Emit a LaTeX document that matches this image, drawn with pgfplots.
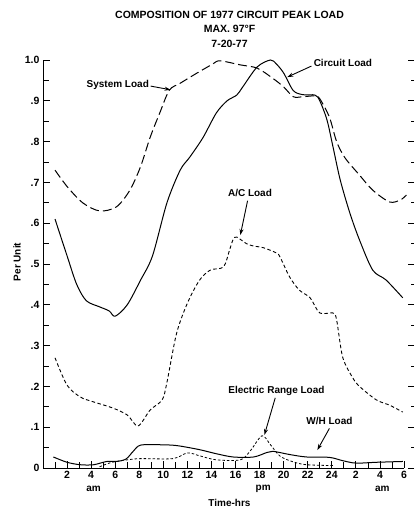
\documentclass[border=0pt]{standalone}
\usepackage{fontspec}
\setmainfont{Liberation Sans}
\usepackage{pgfplots}
\pgfplotsset{compat=1.18}
\usetikzlibrary{arrows.meta}
\begin{document}
\begin{tikzpicture}
\path[use as bounding box] (-43pt,-42pt) rectangle (371pt,468pt);
\begin{axis}[
  at={(0,0)}, anchor=south west, scale only axis,
  width=361pt, height=408pt,
  xmin=0, xmax=30, ymin=0, ymax=1,
  axis x line=bottom, axis y line=left,
  axis line style={-, line width=0.9pt},
  xtick={2,4,...,30},
  xticklabels={2,4,6,8,10,12,14,16,18,20,22,24,2,4,6},
  minor xtick={1,3,...,29},
  ytick={0,0.1,0.2,0.3,0.4,0.5,0.6,0.7,0.8,0.9,1.0},
  yticklabels={0,.1,.2,.3,.4,.5,.6,.7,.8,.9,1.0},
  minor ytick={0.05,0.15,0.25,0.35,0.45,0.55,0.65,0.75,0.85,0.95},
  tick align=inside,
  major tick length=7pt, minor tick length=6pt,
  tick style={black, line width=0.8pt},
  ticklabel style={font=\bfseries\fontsize{10.5}{12}\selectfont},
  /pgf/number format/assume math mode=true,
  clip=false,
]
% Circuit Load
\addplot[black, line width=1pt, smooth, tension=0.5] coordinates {
(1,0.61) (2,0.52) (2.8,0.45) (3.6,0.41) (4.7,0.395) (5.5,0.385) (6,0.372)
(7,0.40) (8.1,0.46) (9.1,0.52) (10.3,0.65) (11.4,0.73) (12.2,0.762) (13.3,0.81)
(14.4,0.87) (15.3,0.90) (16.1,0.914) (16.6,0.934) (17.8,0.983) (18.9,1.0)
(19.4,0.99) (20,0.968) (20.8,0.925) (21.6,0.915) (22.6,0.914) (23,0.90)
(23.6,0.853) (24.1,0.787) (24.7,0.706) (25.5,0.625) (26.3,0.559) (27.4,0.485)
(28.5,0.461) (29.9,0.417)
};
% System Load
\addplot[black, line width=1pt, smooth, tension=0.5, dash pattern=on 9pt off 4pt] coordinates {
(1,0.73) (2,0.69) (3.3,0.65) (4.7,0.63) (6.1,0.64) (7.2,0.68) (8.1,0.738)
(8.9,0.81) (9.7,0.87) (10.5,0.926) (11.4,0.943) (12.8,0.968) (14.1,0.99)
(14.7,0.998) (16.4,0.988) (17.8,0.98) (19.1,0.955) (20,0.934) (20.8,0.91)
(21.6,0.91) (22.6,0.912) (23,0.905) (23.8,0.86) (24.4,0.80) (25.1,0.76)
(26.3,0.718) (27.4,0.681) (28.8,0.652) (29.7,0.657) (30.2,0.669)
};
% A/C Load
\addplot[black, line width=0.9pt, smooth, tension=0.5, dash pattern=on 3.5pt off 2.5pt] coordinates {
(1,0.27) (2,0.203) (3.1,0.174) (4.2,0.162) (5.8,0.147) (7,0.13) (7.9,0.103)
(8.9,0.142) (9.9,0.167) (10.3,0.21) (11.1,0.33) (12,0.404) (13,0.46)
(13.9,0.485) (15,0.493) (15.5,0.534) (15.8,0.56) (16.1,0.566) (16.9,0.55)
(17.5,0.544) (18.3,0.54) (19.4,0.527) (19.7,0.517) (20.5,0.468) (21.3,0.436)
(22.2,0.417) (23,0.38) (24.1,0.38) (24.4,0.363) (24.9,0.272) (25.7,0.223)
(26.3,0.2) (27.7,0.167) (28.8,0.154) (29.9,0.137)
};
% W/H Load
\addplot[black, line width=1pt, smooth, tension=0.5] coordinates {
(0.86,0.027) (2,0.014) (3.1,0.008) (4.2,0.008) (5.3,0.016) (6.1,0.016)
(6.9,0.022) (7.5,0.041) (8.1,0.056) (9.7,0.057) (11.1,0.055) (13,0.045)
(14.4,0.035) (15.8,0.027) (17.5,0.027) (18.6,0.038) (19.1,0.041) (20.5,0.033)
(21.9,0.027) (23.8,0.026) (24.9,0.018) (26,0.012) (27.7,0.014) (29.9,0.016)
};
% Electric Range Load
\addplot[black, line width=0.8pt, smooth, tension=0.5, dash pattern=on 2.5pt off 2pt] coordinates {
(4.7,0.003) (5.5,0.012) (6.1,0.016) (7,0.02) (8.1,0.023) (10.8,0.023)
(12,0.037) (13,0.03) (14.4,0.02) (16.4,0.02) (17.2,0.041) (18.2,0.079)
(18.9,0.057) (19.7,0.029) (20.8,0.015) (21.9,0.008) (24.1,0.006)
};
% annotations
\tikzset{lbl/.style={font=\bfseries\fontsize{10}{12}\selectfont, inner sep=1pt},
         arr/.style={-{Stealth[length=6pt,width=4pt]}, line width=0.9pt}}
\node[lbl, anchor=east] at (axis cs:8.9,0.938) {System Load};
\draw[arr] (axis cs:8.95,0.936) -- (axis cs:10.6,0.927);
\node[lbl, anchor=west] at (axis cs:22.4,0.993) {Circuit Load};
\draw[arr] (axis cs:22.3,0.985) -- (axis cs:20.3,0.958);
\node[lbl] at (axis cs:17.2,0.674) {A/C Load};
\draw[arr] (axis cs:17.0,0.655) -- (axis cs:16.4,0.571);
\node[lbl] at (axis cs:19.4,0.189) {Electric Range Load};
\draw[arr] (axis cs:19.3,0.172) -- (axis cs:18.4,0.081);
\node[lbl] at (axis cs:23.8,0.115) {W/H Load};
\draw[arr] (axis cs:23.8,0.097) -- (axis cs:22.8,0.044);
% titles and axis texts
\node[align=center, font=\bfseries\fontsize{10.5}{14.5}\selectfont] at (axis cs:15.5,1.076)
  {COMPOSITION OF 1977 CIRCUIT PEAK LOAD\\MAX. 97°F\\7-20-77};
\node[lbl] at (axis cs:4.2,-0.051) {am};
\node[lbl] at (axis cs:18.3,-0.051) {pm};
\node[lbl] at (axis cs:28.2,-0.051) {am};
\node[lbl] at (axis cs:15.5,-0.086) {Time-hrs};
\node[lbl, rotate=90] at (axis cs:-2.15,0.505) {Per Unit};
\end{axis}
\begin{axis}[
  at={(0,0)}, anchor=south west, scale only axis,
  width=371pt, height=408pt,
  xmin=0, xmax=1, ymin=0, ymax=1,
  axis x line=none, axis y line=right,
  axis line style={draw=none},
  ytick={0,0.1,0.2,0.3,0.4,0.5,0.6,0.7,0.8,0.9,1.0},
  yticklabels={},
  minor ytick={0.05,0.15,0.25,0.35,0.45,0.55,0.65,0.75,0.85,0.95},
  tick align=inside,
  major tick length=6pt, minor tick length=3pt,
  tick style={black, line width=0.8pt},
]
\end{axis}
\end{tikzpicture}
\end{document}
